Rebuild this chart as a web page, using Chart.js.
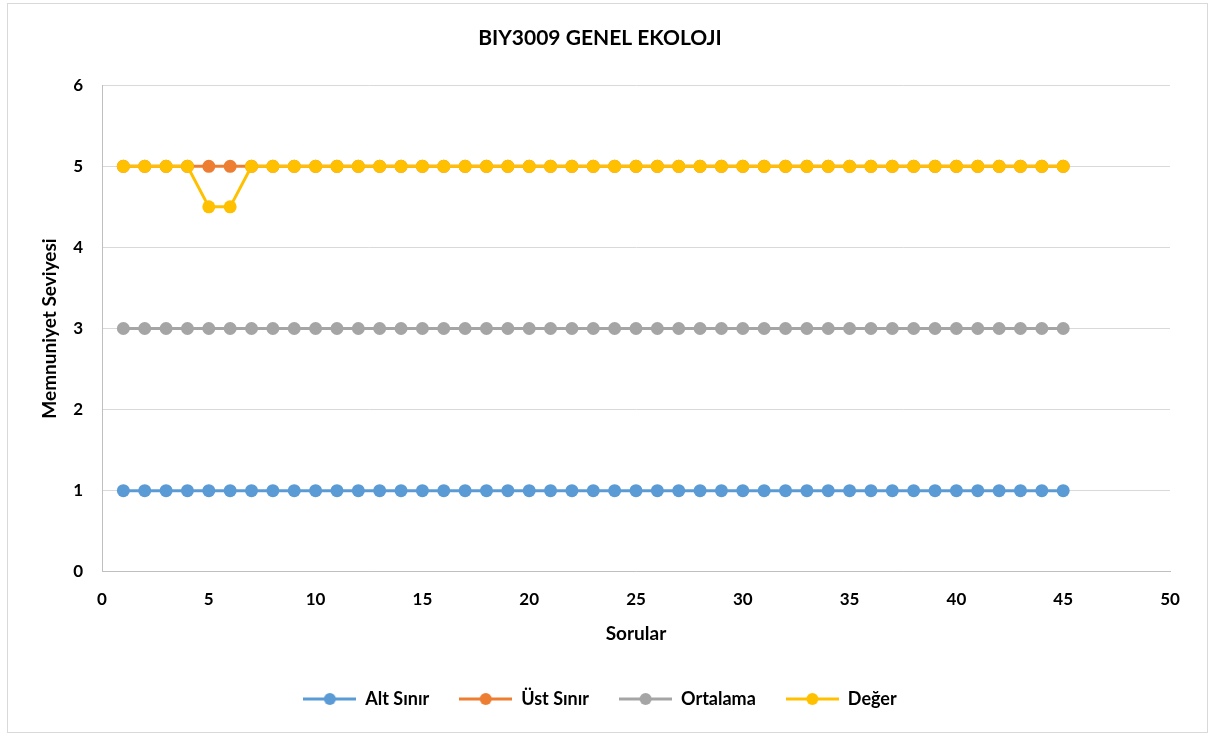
<!DOCTYPE html>
<html>
<head>
<meta charset="utf-8">
<script src="https://cdn.jsdelivr.net/npm/chart.js@4"></script>
<style>
  html, body { margin: 0; padding: 0; background: #fff; }
  #wrap { position: relative; width: 1215px; height: 737px; }
  #frame { position: absolute; left: 7px; top: 3px; width: 1199px; height: 728px; border: 1px solid #D9D9D9; pointer-events: none; }
</style>
</head>
<body>
<div id="wrap">
  <canvas id="grafik" width="1215" height="737"></canvas>
  <div id="frame"></div>
</div>
<script>
// veri
const sorular = [1,2,3,4,5,6,7,8,9,10,11,12,13,14,15,16,17,18,19,20,21,22,23,24,25,26,27,28,29,30,31,32,33,34,35,36,37,38,39,40,41,42,43,44,45];
const altSinir = [1,1,1,1,1,1,1,1,1,1,1,1,1,1,1,1,1,1,1,1,1,1,1,1,1,1,1,1,1,1,1,1,1,1,1,1,1,1,1,1,1,1,1,1,1];
const ustSinir = [5,5,5,5,5,5,5,5,5,5,5,5,5,5,5,5,5,5,5,5,5,5,5,5,5,5,5,5,5,5,5,5,5,5,5,5,5,5,5,5,5,5,5,5,5];
const ortalama = [3,3,3,3,3,3,3,3,3,3,3,3,3,3,3,3,3,3,3,3,3,3,3,3,3,3,3,3,3,3,3,3,3,3,3,3,3,3,3,3,3,3,3,3,3];
const deger = [5,5,5,5,4.5,4.5,5,5,5,5,5,5,5,5,5,5,5,5,5,5,5,5,5,5,5,5,5,5,5,5,5,5,5,5,5,5,5,5,5,5,5,5,5,5,5];
const seriAdlari = ['Alt Sınır', 'Üst Sınır', 'Ortalama', 'Değer'];
const renkler = ['#5B9BD5', '#ED7D31', '#A5A5A5', '#FFC000'];

const FONT = 'Lato, "Open Sans", sans-serif';

function noktalar(degerler) {
  return sorular.map((x, i) => ({ x: x, y: degerler[i] }));
}

function legendIkon(renk) {
  const c = document.createElement('canvas');
  c.width = 53; c.height = 14;
  const g = c.getContext('2d');
  g.strokeStyle = renk;
  g.lineWidth = 3;
  g.beginPath(); g.moveTo(0, 7); g.lineTo(53, 7); g.stroke();
  g.fillStyle = renk;
  g.beginPath(); g.arc(26.5, 7, 6, 0, Math.PI * 2); g.fill();
  return c;
}

const tumSeriler = [altSinir, ustSinir, ortalama, deger];
const datasets = tumSeriler.map((s, i) => ({
  label: seriAdlari[i],
  data: noktalar(s),
  borderColor: renkler[i],
  backgroundColor: renkler[i],
  borderWidth: 3,
  pointRadius: 6.5,
  pointHoverRadius: 6.5,
  pointBorderWidth: 0,
  showLine: true,
  tension: 0,
  order: 3 - i   // sonraki seri ustte cizilsin (Excel gibi)
}));

const ctx = document.getElementById('grafik').getContext('2d');
new Chart(ctx, {
  type: 'scatter',
  data: { datasets: datasets },
  options: {
    responsive: false,
    animation: false,
    layout: { padding: { left: 30, right: 45, top: 11, bottom: 19 } },
    plugins: {
      title: {
        display: true,
        text: 'BIY3009 GENEL EKOLOJI',
        color: '#000',
        font: { family: FONT, size: 21, weight: 'bold' },
        padding: { top: 15, bottom: 34 }
      },
      legend: {
        position: 'bottom',
        labels: {
          color: '#000',
          font: { family: FONT, size: 18, weight: 'bold' },
          usePointStyle: true,
          pointStyleWidth: 53,
          padding: 30,
          generateLabels: function (chart) {
            return chart.data.datasets.map((d, i) => ({
              text: d.label,
              fillStyle: d.borderColor,
              strokeStyle: d.borderColor,
              fontColor: '#000',
              pointStyle: legendIkon(d.borderColor),
              datasetIndex: i,
              hidden: false
            }));
          }
        }
      },
      tooltip: { enabled: false }
    },
    scales: {
      x: {
        type: 'linear',
        min: 0,
        max: 50,
        ticks: { stepSize: 5, color: '#000', font: { family: FONT, size: 17, weight: 'bold' }, padding: 18 },
        grid: { display: false, drawTicks: false },
        border: { color: '#BFBFBF', width: 1 },
        title: { display: true, text: 'Sorular', color: '#000', font: { family: FONT, size: 19, weight: 'bold' }, padding: { top: -6, bottom: 15 } }
      },
      y: {
        min: 0,
        max: 6,
        afterFit: function (s) { s.width = 72; },
        ticks: { stepSize: 1, color: '#000', font: { family: FONT, size: 17, weight: 'bold' }, padding: 19 },
        grid: { color: '#D9D9D9', drawTicks: false },
        border: { color: '#BFBFBF', width: 1 },
        title: { display: true, text: 'Memnuniyet Seviyesi', color: '#000', font: { family: FONT, size: 19, weight: 'bold' }, padding: { top: 8, bottom: 0 } }
      }
    }
  }
});
</script>
</body>
</html>
